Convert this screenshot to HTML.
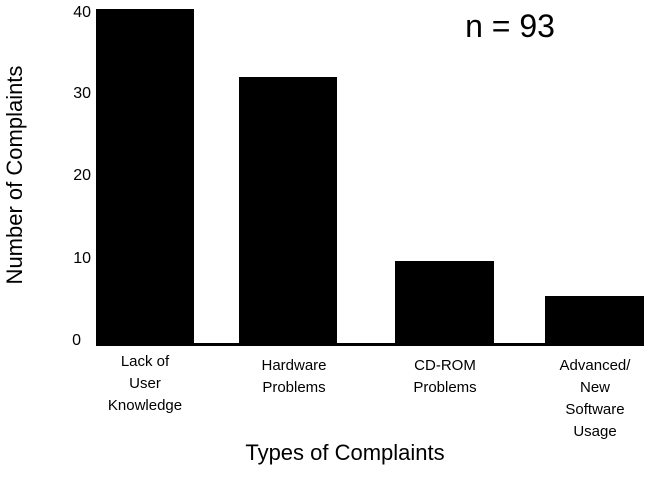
<!DOCTYPE html>
<html><head><style>
body{margin:0;background:#fff;}
svg text{font-family:"Liberation Sans",Arial,sans-serif;fill:#000;}
</style></head><body>
<svg width="651" height="476" viewBox="0 0 651 476" xmlns="http://www.w3.org/2000/svg">
<rect x="96" y="9" width="98" height="337" fill="#000"/>
<rect x="239" y="77" width="98" height="269" fill="#000"/>
<rect x="395" y="261" width="99" height="85" fill="#000"/>
<rect x="545" y="296" width="99" height="50" fill="#000"/>
<rect x="97" y="343" width="547" height="3" fill="#000"/>
<g font-size="16" text-anchor="end">
<text x="91" y="17">40</text>
<text x="91" y="98">30</text>
<text x="91" y="180">20</text>
<text x="91" y="263">10</text>
<text x="81" y="345">0</text>
</g>
<g font-size="15" text-anchor="middle">
<text x="145" y="366">Lack of</text>
<text x="145" y="388">User</text>
<text x="145" y="410">Knowledge</text>
<text x="294" y="370">Hardware</text>
<text x="294" y="392">Problems</text>
<text x="445" y="370">CD-ROM</text>
<text x="445" y="392">Problems</text>
<text x="595" y="370">Advanced/</text>
<text x="595" y="392">New</text>
<text x="595" y="414">Software</text>
<text x="595" y="436">Usage</text>
</g>
<text x="510" y="37" font-size="32" text-anchor="middle">n = 93</text>
<text x="345" y="460" font-size="22" text-anchor="middle">Types of Complaints</text>
<text transform="translate(22,175) rotate(-90)" font-size="22" text-anchor="middle">Number of Complaints</text>
</svg>
</body></html>
